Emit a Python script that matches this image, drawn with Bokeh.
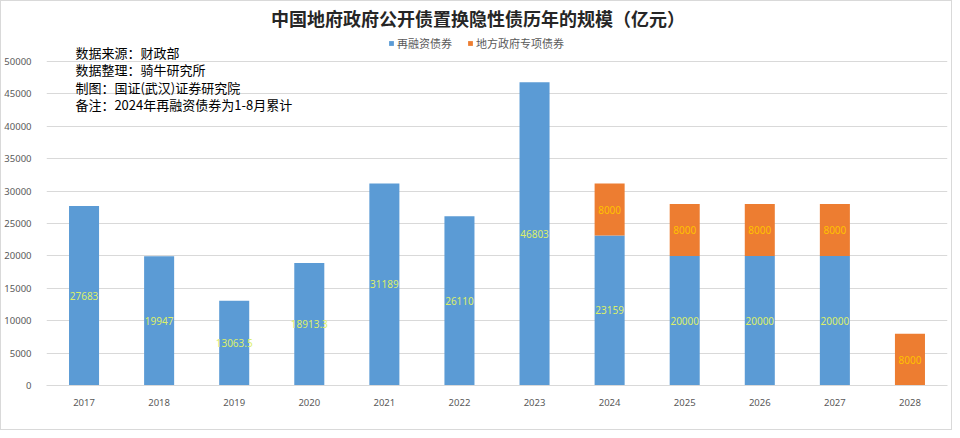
from bokeh.plotting import figure
from bokeh.models import (ColumnDataSource, FactorRange, Range1d, FixedTicker, LabelSet, Label,
                          NumeralTickFormatter)
from bokeh.core.properties import value
from bokeh.embed import file_html
from bokeh.resources import INLINE

years = ["2017", "2018", "2019", "2020", "2021", "2022", "2023", "2024", "2025", "2026", "2027", "2028"]
refinance = [27683, 19947, 13063.5, 18913.3, 31189, 26110, 46803, 23159, 20000, 20000, 20000, 0]
special = [0, 0, 0, 0, 0, 0, 0, 8000, 8000, 8000, 8000, 8000]
series_names = ["再融资债券", "地方政府专项债券"]
colors = ["#5b9bd5", "#ed7d31"]
y_ticks = [0, 5000, 10000, 15000, 20000, 25000, 30000, 35000, 40000, 45000, 50000]
title_text = "中国地府政府公开债置换隐性债历年的规模（亿元）"
notes = ["数据来源：财政部", "数据整理：骑牛研究所", "制图：国证(武汉)证券研究院", "备注：2024年再融资债券为1-8月累计"]

FONT = "Noto Sans CJK SC"
W, H = 952, 430
FL, FR, FB = 42, 946, 384          # frame left / right / bottom in canvas pixels
upp = 50000 / 324.0                # value units per pixel


def fmt(v):
    return str(int(v)) if float(v).is_integer() else str(v)


src = ColumnDataSource(dict(year=years, refinance=refinance, special=special))

p = figure(width=W, height=H, x_range=FactorRange(*years, range_padding=0),
           y_range=Range1d(0, FB * upp), output_backend="svg", toolbar_location=None,
           min_border_left=FL, min_border_right=W - FR, min_border_top=0, min_border_bottom=H - FB)
p.styles = {"border": "1px solid #d9d9d9", "box-sizing": "border-box"}

renderers = p.vbar_stack(["refinance", "special"], x="year", width=0.4, color=colors,
                         source=src, legend_label=series_names, line_color=None)

# data labels
b_idx = [i for i, v in enumerate(refinance) if v > 0]
s_idx = [i for i, v in enumerate(special) if v > 0]
blue_lab = ColumnDataSource(dict(x=[years[i] for i in b_idx],
                                 y=[refinance[i] / 2 for i in b_idx],
                                 t=[fmt(refinance[i]) for i in b_idx]))
orange_lab = ColumnDataSource(dict(x=[years[i] for i in s_idx],
                                   y=[refinance[i] + special[i] / 2 for i in s_idx],
                                   t=[fmt(special[i]) for i in s_idx]))
p.add_layout(LabelSet(x="x", y="y", text="t", source=blue_lab, text_align="center",
                      text_baseline="middle", text_font_size="10px", text_color="#dcef6a",
                      text_font=value("Noto Sans")))
p.add_layout(LabelSet(x="x", y="y", text="t", source=orange_lab, text_align="center",
                      text_baseline="middle", text_font_size="10px", text_color="#ffc000",
                      text_font=value("Noto Sans")))

# axes
p.yaxis.ticker = FixedTicker(ticks=y_ticks)
p.yaxis.formatter = NumeralTickFormatter(format="0")
p.yaxis.axis_line_color = None
p.yaxis.major_tick_line_color = None
p.yaxis.minor_tick_line_color = None
p.yaxis.major_label_standoff = 9
p.yaxis.major_label_text_font = "Noto Sans"
p.yaxis.major_label_text_font_size = "9.5px"
p.yaxis.major_label_text_color = "#595959"

p.xaxis.axis_line_color = "#d9d9d9"
p.xaxis.major_tick_line_color = None
p.xaxis.minor_tick_line_color = None
p.xaxis.major_label_standoff = 7
p.xaxis.major_label_text_font = "Noto Sans"
p.xaxis.major_label_text_font_size = "9.5px"
p.xaxis.major_label_text_color = "#595959"

p.xgrid.grid_line_color = None
p.ygrid.grid_line_color = "#d9d9d9"
p.outline_line_color = None

# legend
lg = p.legend[0]
lg.orientation = "horizontal"
lg.location = (384 - FL, FB - 50)
lg.padding = 0
lg.margin = 0
lg.spacing = 15
lg.label_standoff = 3
lg.glyph_width = 6
lg.glyph_height = 6
lg.label_height = 12
lg.label_text_font = FONT
lg.label_text_font_size = "11px"
lg.label_text_color = "#595959"
lg.border_line_color = None
lg.background_fill_alpha = 0


def y_at(px):
    return (FB - px) * upp


def x_at(px):
    return (px - FL) / ((FR - FL) / 12.0)


p.add_layout(Label(x=x_at(475), y=y_at(16), text=title_text, text_align="center",
                   text_baseline="middle", text_font=FONT, text_font_style="bold",
                   text_font_size="18px", text_color="#262626"))
for i, line in enumerate(notes):
    p.add_layout(Label(x=x_at(71), y=y_at(51 + i * 17.3), text=line, text_align="left",
                       text_baseline="middle", text_font=FONT, text_font_size="13px",
                       text_color="#000000"))

open("out.html", "w").write(file_html(p, INLINE))
